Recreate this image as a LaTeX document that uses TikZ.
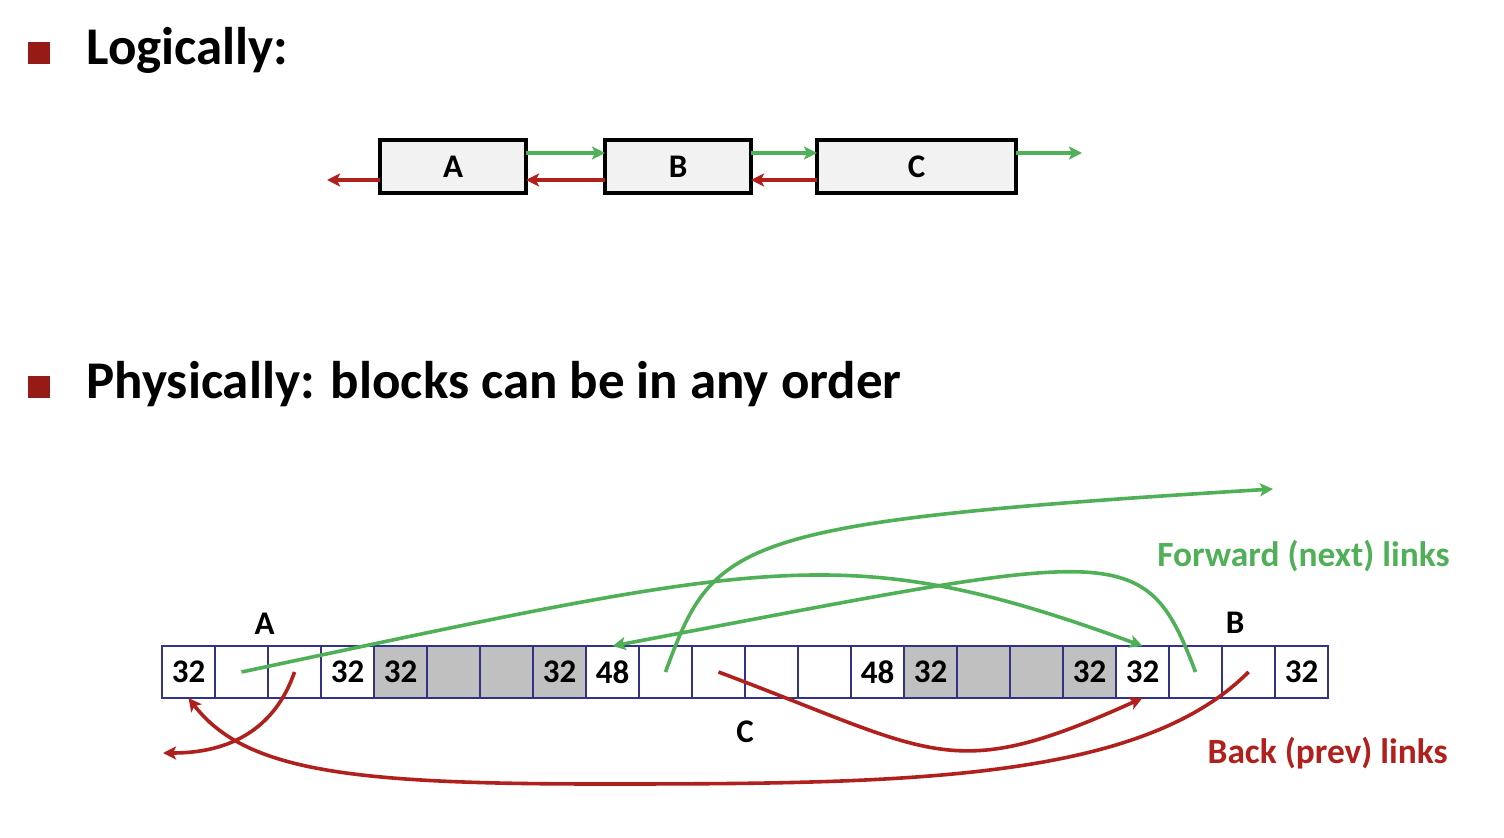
\documentclass[tikz,border=0pt]{standalone}
\usepackage{fontspec}
\setmainfont{Carlito}
\usepackage{tikz}
\usetikzlibrary{arrows.meta,positioning,calc}

\definecolor{linkgreen}{RGB}{80,176,88}
\definecolor{linkred}{RGB}{176,32,28}
\definecolor{bulletred}{RGB}{150,27,22}
\definecolor{cellblue}{RGB}{50,50,135}
\definecolor{freegray}{RGB}{192,192,192}
\definecolor{boxgray}{RGB}{242,242,242}

\begin{document}
\begin{tikzpicture}[
  x=0.5pt, y=-0.5pt,
  node distance=0pt,
  title/.style={anchor=base west, inner sep=0pt, font=\fontsize{26.5}{30}\selectfont\bfseries},
  bullet/.style={rectangle, fill=bulletred, minimum size=11pt, inner sep=0pt},
  listbox/.style={rectangle, draw, line width=1.8pt, fill=boxgray, outer sep=0pt, minimum width=73pt, minimum height=26.5pt, font=\fontsize{16.5}{18}\selectfont\bfseries},
  cell/.style={rectangle, draw=cellblue, line width=0.7pt, fill=white, minimum width=26.5pt, minimum height=26pt, inner sep=0pt, outer sep=0pt, font=\fontsize{16.5}{18}\selectfont\bfseries},
  freecell/.style={cell, fill=freegray},
  lbl/.style={inner sep=0pt, font=\fontsize{16.5}{18}\selectfont\bfseries},
  linktext/.style={anchor=base east, inner sep=0pt, font=\fontsize{17.7}{20}\selectfont\bfseries},
  fwdlink/.style={draw=linkgreen, line width=1.8pt, -{Stealth[length=6.5pt, width=6.5pt, inset=1.5pt]}},
  backlink/.style={fwdlink, draw=linkred}
]
\useasboundingbox (0,0) rectangle (1504,838);

% titles
\node[bullet] (bulletOne) at (39,53) {};
\node[title] (titleOne) at (86,65) {Logically:};
\node[bullet] (bulletTwo) at (39,387) {};
\node[title] (titleTwo) at (86,399) {Physically: blocks can be in any order};

% logical list
\node[listbox] (logA) at (453,166.5) {A};
\node[listbox, right=39.5pt of logA] (logB) {B};
\node[listbox, right=33pt of logB, minimum width=99.5pt] (logC) {C};
\coordinate (logEnd) at (1082,153);
\coordinate (logStart) at (327,180);

\draw[fwdlink] ([yshift=6.75pt]logA.east) -- ([yshift=6.75pt]logB.west);
\draw[fwdlink] ([yshift=6.75pt]logB.east) -- ([yshift=6.75pt]logC.west);
\draw[fwdlink] ([yshift=6.75pt]logC.east) -- (logEnd);
\draw[backlink] ([yshift=-6.75pt]logC.west) -- ([yshift=-6.75pt]logB.east);
\draw[backlink] ([yshift=-6.75pt]logB.west) -- ([yshift=-6.75pt]logA.east);
\draw[backlink] ([yshift=-6.75pt]logA.west) -- (logStart);

% heap cells
\node[cell] (aHdr) at (188.5,672) {32};
\node[cell, right=of aHdr] (aNext) {};
\node[cell, right=of aNext] (aPrev) {};
\node[cell, right=of aPrev] (aFtr) {32};
\node[freecell, right=of aFtr] (fOneHdr) {32};
\node[freecell, right=of fOneHdr] (fOneA) {};
\node[freecell, right=of fOneA] (fOneB) {};
\node[freecell, right=of fOneB] (fOneFtr) {32};
\node[cell, right=of fOneFtr] (cHdr) {48};
\node[cell, right=of cHdr] (cNext) {};
\node[cell, right=of cNext] (cPrev) {};
\node[cell, right=of cPrev] (cPayA) {};
\node[cell, right=of cPayA] (cPayB) {};
\node[cell, right=of cPayB] (cFtr) {48};
\node[freecell, right=of cFtr] (fTwoHdr) {32};
\node[freecell, right=of fTwoHdr] (fTwoA) {};
\node[freecell, right=of fTwoA] (fTwoB) {};
\node[freecell, right=of fTwoB] (fTwoFtr) {32};
\node[cell, right=of fTwoFtr] (bHdr) {32};
\node[cell, right=of bHdr] (bNext) {};
\node[cell, right=of bNext] (bPrev) {};
\node[cell, right=of bPrev] (bFtr) {32};

% block labels
\node[lbl, above=5.5pt of aNext.north east, xshift=-1.75pt] (lblA) {A};
\node[lbl, above=6pt of bNext.north east, xshift=6.5pt] (lblB) {B};
\node[lbl, below=11pt of cPrev.south east] (lblC) {C};

\node[linktext, text=linkgreen] (fwdText) at (1450,567) {Forward (next) links};
\node[linktext, text=linkred] (backText) at (1448,763) {Back (prev) links};

% links
\coordinate (fwdEnd) at (1273,489);
\coordinate (backEnd) at (163,753);

\draw[fwdlink] (aNext.center) .. controls (770,560) and (847,538) .. (bHdr.north);
\draw[fwdlink] (bNext.center) .. controls (1144,536) and (1121,550) .. (cHdr.north);
\draw[fwdlink] (cNext.center) .. controls (714,540) and (730,522) .. (fwdEnd);

\draw[backlink] (aPrev.center) .. controls (269,746) and (205,753) .. (backEnd);
\draw[backlink] (bPrev.center) .. controls (1139,782) and (900,784) .. (600,784)
  .. controls (350,784) and (245,771) .. (aHdr.south);
\draw[backlink] (cPrev.center) .. controls (937,754) and (950,785) .. (bHdr.south);

\end{tikzpicture}
\end{document}
